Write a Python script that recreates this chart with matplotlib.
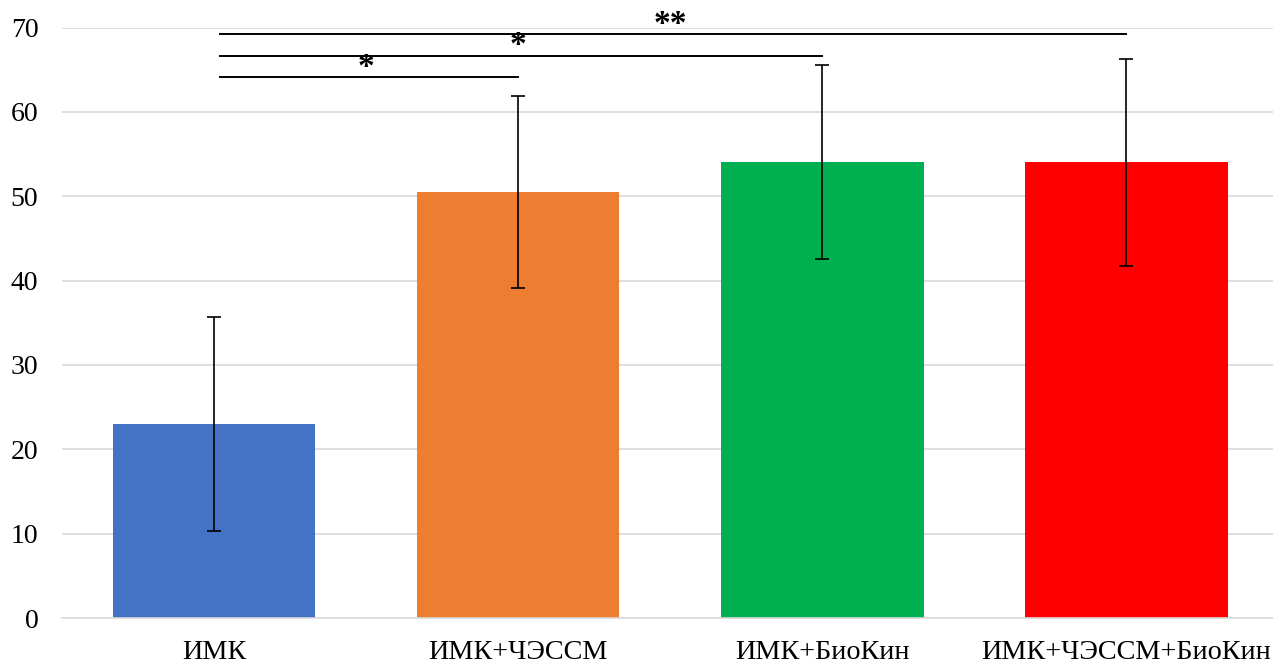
import matplotlib
matplotlib.use("Agg")
import matplotlib.pyplot as plt

categories = ["ИМК", "ИМК+ЧЭССМ", "ИМК+БиоКин", "ИМК+ЧЭССМ+БиоКин"]
values = [23.0, 50.5, 54.0, 54.0]
errors = [12.7, 11.4, 11.5, 12.3]
colors = ["#4472C4", "#ED7D31", "#00B050", "#FF0000"]
yticks = [0, 10, 20, 30, 40, 50, 60, 70]

# significance brackets: (from, to, y, label)
sig_pairs = [(0, 1, 64.1, "*"), (0, 2, 66.6, "*"), (0, 3, 69.2, "**")]

plt.rcParams["font.family"] = ["Liberation Serif", "DejaVu Serif"]

W, H = 1273, 664
fig = plt.figure(figsize=(W / 100, H / 100), dpi=100)
left, right, top, bottom = 62, 1273, 27.5, 618
ax = fig.add_axes([left / W, 1 - bottom / H, (right - left) / W, (bottom - top) / H])

x = range(len(categories))
ax.bar(x, values, width=0.667, color=colors, zorder=2)
ax.errorbar(x, values, yerr=errors, fmt="none", ecolor="black",
            elinewidth=1.2, capsize=5, capthick=1.2, zorder=3)

for a, b, y, label in sig_pairs:
    ax.plot([a + 0.02, b], [y, y], color="black", lw=1.4, zorder=4, clip_on=False)
    ax.text((a + b) / 2, y + 0.2, label, ha="center", va="baseline",
            fontsize=24, fontweight="bold", zorder=4)

ax.set_xlim(-0.5, 3.483)
ax.set_ylim(0, 70)
ax.set_yticks(yticks)
ax.set_xticks(list(x))
ax.set_xticklabels(categories, fontsize=20.3)
ax.tick_params(axis="y", labelsize=20, length=0, pad=17)
ax.tick_params(axis="x", length=0, pad=16)
ax.yaxis.grid(True, color="#D9D9D9", lw=1.2, zorder=0)
ax.set_axisbelow(True)
for side in ["top", "right", "left"]:
    ax.spines[side].set_visible(False)
ax.spines["bottom"].set_color("#D9D9D9")
ax.spines["bottom"].set_linewidth(1.2)

fig.savefig("out.png", dpi=100)
